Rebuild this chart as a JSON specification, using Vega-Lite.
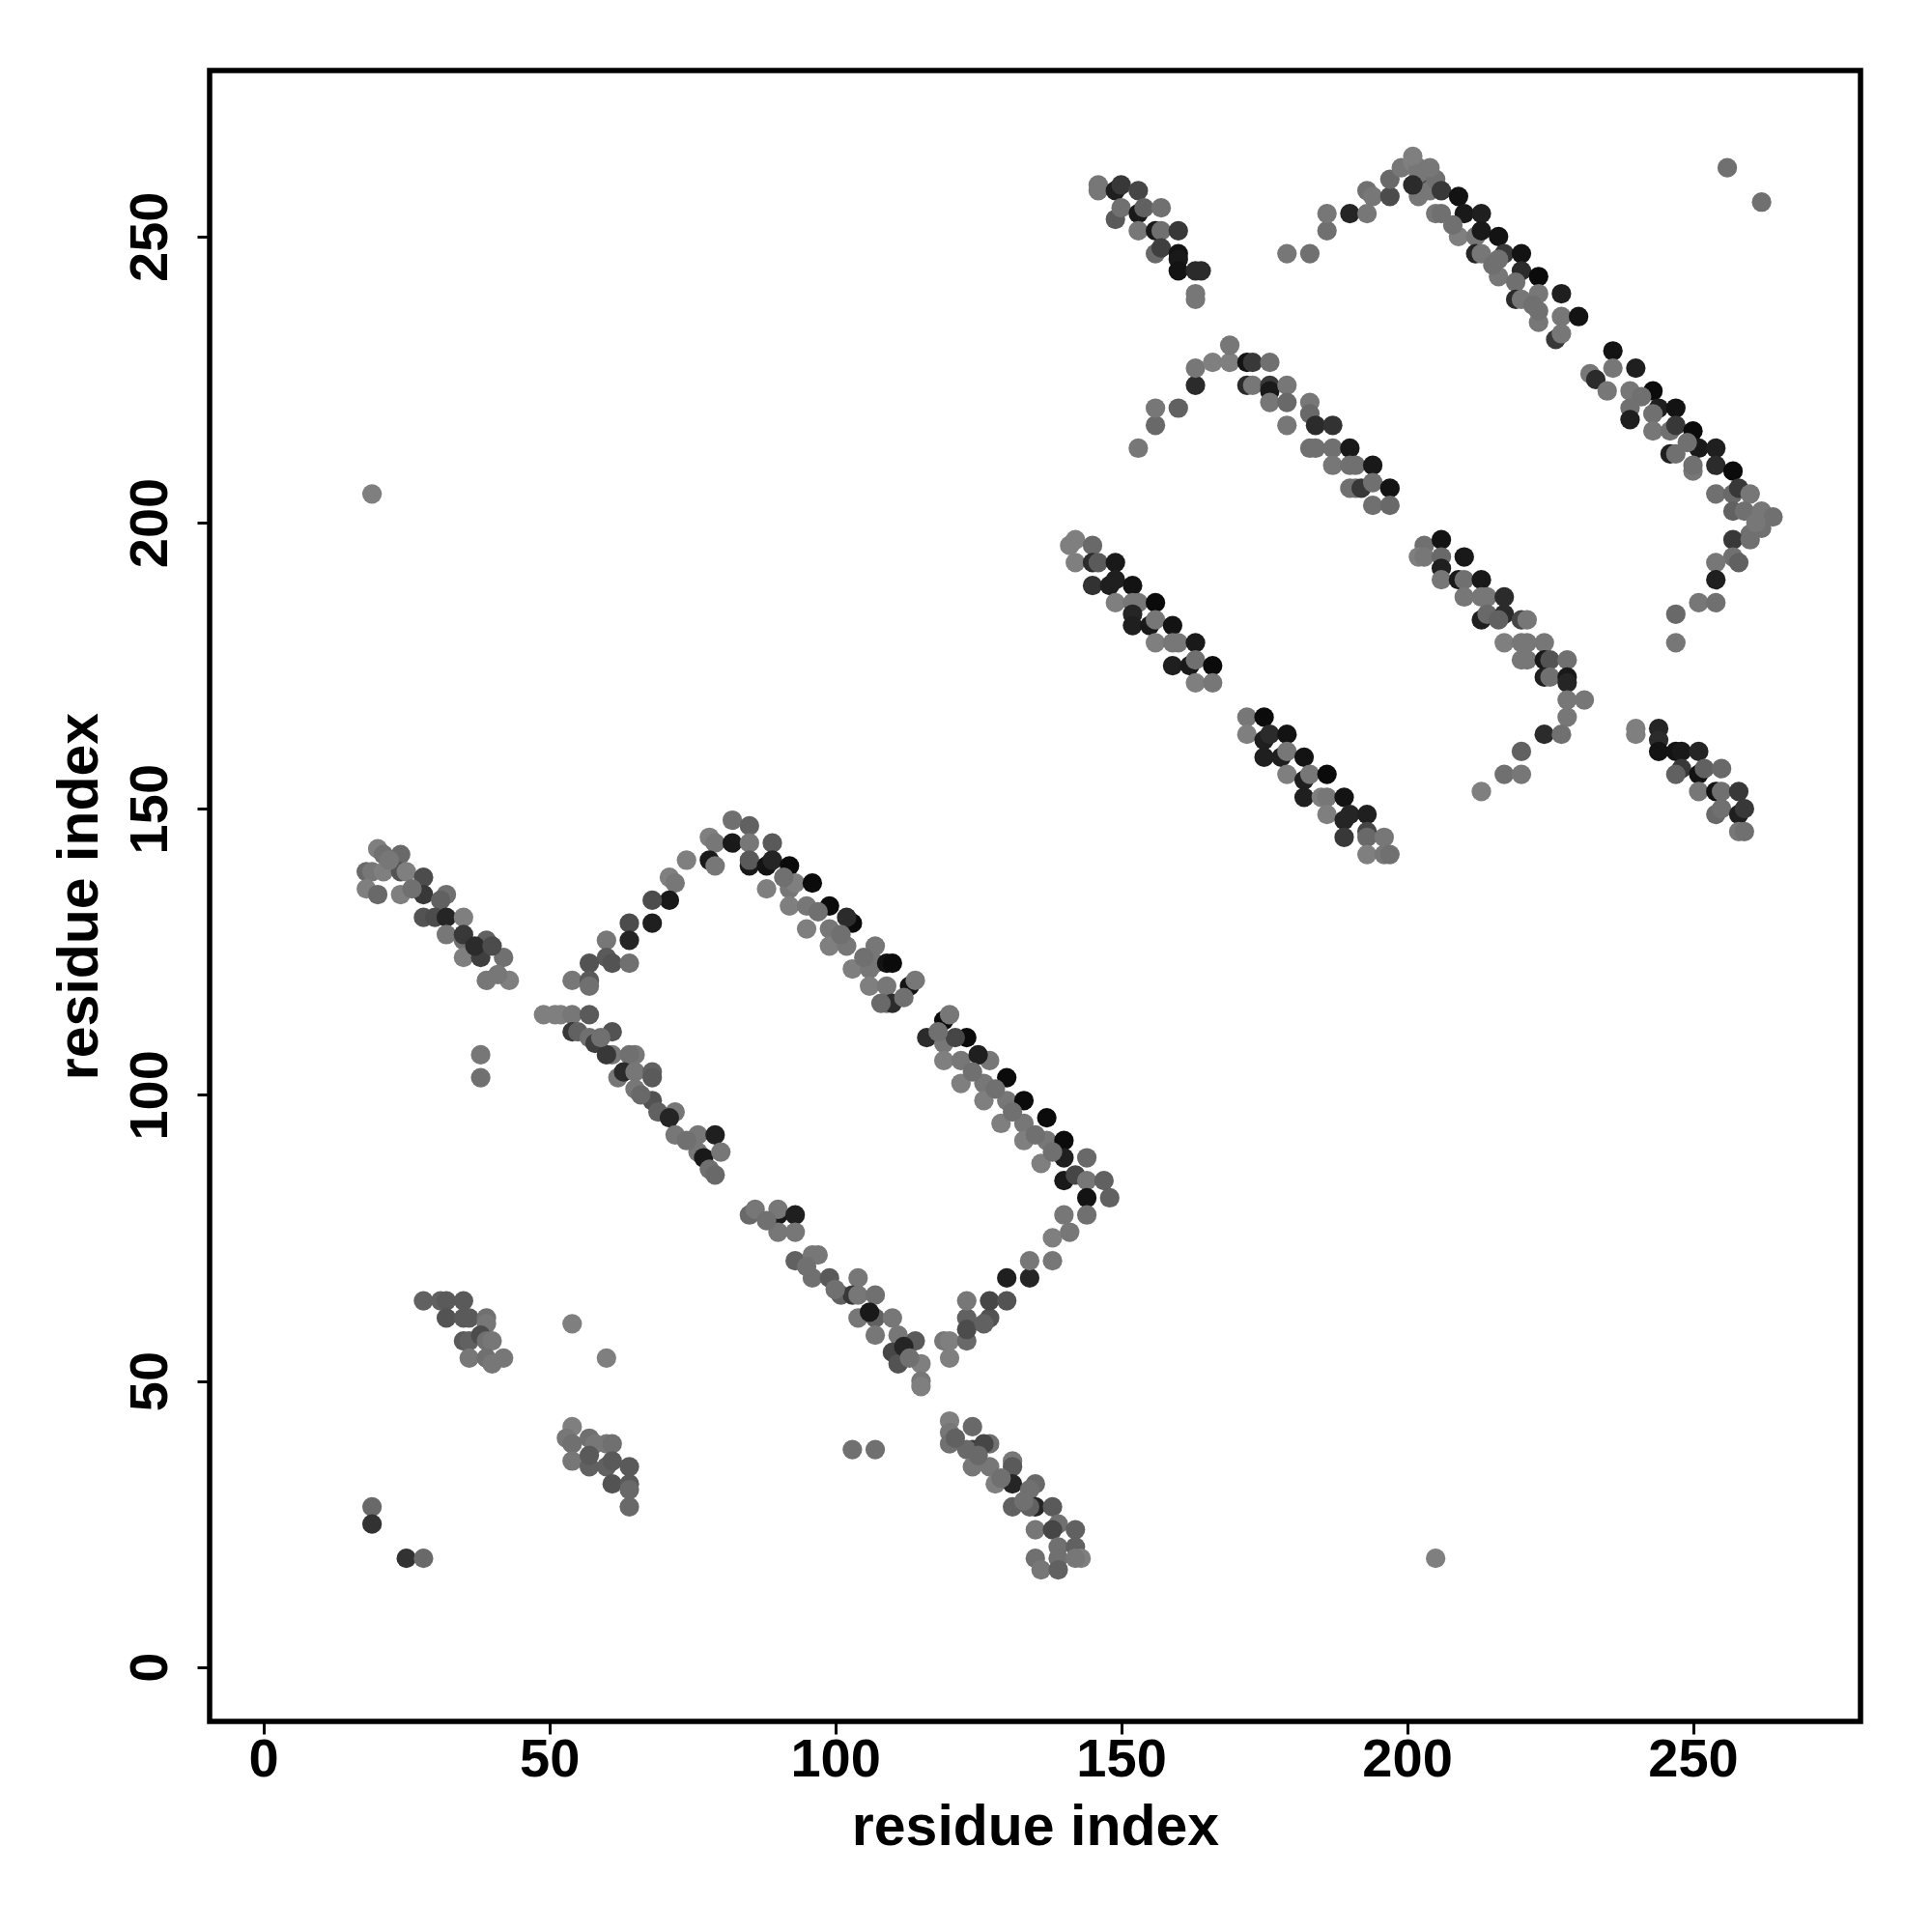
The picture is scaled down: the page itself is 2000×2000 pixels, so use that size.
{
  "$schema": "https://vega.github.io/schema/vega-lite/v6.json",
  "width": 1709,
  "height": 1709,
  "autosize": {"type": "none"},
  "padding": {"left": 217, "top": 73, "right": 74, "bottom": 218},
  "background": "white",
  "config": {"view": {"stroke": "black", "strokeWidth": 5.5}, "font": "Liberation Sans"},
  "data": {"values": [
    {"i":19,"j":205,"p":0.1},{"i":256,"j":262,"p":0.2},{"i":262,"j":256,"p":0.2},{"i":205,"j":19,"p":0.1},{"i":38,"j":107,"p":0.15},{"i":38,"j":103,"p":0.2},{"i":103,"j":38,"p":0.2},{"i":107,"j":38,"p":0.2},{"i":54,"j":60,"p":0.1},{"i":60,"j":54,"p":0.1},{"i":19,"j":28,"p":0.25},{"i":19,"j":25,"p":0.65},{"i":25,"j":19,"p":0.65},{"i":28,"j":19,"p":0.25},
    {"i":20,"j":143,"p":0.1},{"i":21,"j":142,"p":0.2},{"i":24,"j":142,"p":0.25},{"i":18,"j":139,"p":0.25},{"i":19,"j":139,"p":0.15},{"i":21,"j":139,"p":0.1},{"i":24,"j":139,"p":0.4},{"i":25,"j":139,"p":0.1},{"i":28,"j":138,"p":0.45},{"i":18,"j":136,"p":0.1},{"i":20,"j":135,"p":0.25},{"i":24,"j":135,"p":0.1},{"i":28,"j":135,"p":0.6},{"i":32,"j":135,"p":0.2},{"i":31,"j":134,"p":0.3},{"i":28,"j":131,"p":0.4},{"i":30,"j":131,"p":0.45},{"i":32,"j":131,"p":0.75},{"i":35,"j":131,"p":0.1},{"i":32,"j":128,"p":0.15},{"i":35,"j":127,"p":0.2},{"i":39,"j":127,"p":0.3},{"i":35,"j":128,"p":0.6},{"i":35,"j":124,"p":0.1},{"i":38,"j":124,"p":0.55},{"i":42,"j":124,"p":0.2},{"i":39,"j":120,"p":0.15},{"i":43,"j":120,"p":0.1},{"i":37,"j":126,"p":0.7},{"i":40,"j":126,"p":0.45},{"i":22,"j":141,"p":0.15},{"i":26,"j":136,"p":0.2},{"i":41,"j":121,"p":0.15},
    {"i":28,"j":64,"p":0.3},{"i":31,"j":64,"p":0.3},{"i":32,"j":64,"p":0.35},{"i":35,"j":64,"p":0.35},{"i":32,"j":61,"p":0.4},{"i":35,"j":61,"p":0.35},{"i":36,"j":61,"p":0.35},{"i":39,"j":61,"p":0.2},{"i":39,"j":60,"p":0.15},{"i":35,"j":57,"p":0.35},{"i":36,"j":57,"p":0.3},{"i":38,"j":58,"p":0.45},{"i":39,"j":57,"p":0.2},{"i":40,"j":57,"p":0.15},{"i":36,"j":54,"p":0.15},{"i":39,"j":54,"p":0.2},{"i":40,"j":53,"p":0.15},{"i":42,"j":54,"p":0.15},
    {"i":54,"j":42,"p":0.1},{"i":53,"j":40,"p":0.15},{"i":54,"j":39,"p":0.2},{"i":57,"j":40,"p":0.2},{"i":58,"j":39,"p":0.15},{"i":60,"j":39,"p":0.15},{"i":61,"j":39,"p":0.2},{"i":54,"j":36,"p":0.15},{"i":57,"j":35,"p":0.3},{"i":60,"j":35,"p":0.3},{"i":61,"j":36,"p":0.35},{"i":64,"j":35,"p":0.35},{"i":61,"j":32,"p":0.4},{"i":64,"j":32,"p":0.35},{"i":64,"j":31,"p":0.25},{"i":64,"j":28,"p":0.25},{"i":57,"j":37,"p":0.35},
    {"i":74,"j":141,"p":0.1},{"i":71,"j":138,"p":0.1},{"i":72,"j":137,"p":0.15},{"i":71,"j":134,"p":0.85},{"i":68,"j":134,"p":0.45},{"i":68,"j":130,"p":0.8},{"i":64,"j":130,"p":0.45},{"i":64,"j":127,"p":0.75},{"i":60,"j":127,"p":0.15},{"i":60,"j":124,"p":0.35},{"i":61,"j":123,"p":0.4},{"i":64,"j":123,"p":0.2},{"i":57,"j":123,"p":0.4},{"i":54,"j":120,"p":0.15},{"i":57,"j":120,"p":0.35},{"i":57,"j":119,"p":0.2},
    {"i":82,"j":148,"p":0.2},{"i":85,"j":147,"p":0.3},{"i":78,"j":145,"p":0.1},{"i":79,"j":144,"p":0.15},{"i":82,"j":144,"p":0.85},{"i":85,"j":144,"p":0.15},{"i":89,"j":144,"p":0.35},{"i":78,"j":141,"p":0.85},{"i":79,"j":140,"p":0.15},{"i":85,"j":140,"p":0.85},{"i":85,"j":141,"p":0.35},{"i":88,"j":140,"p":0.9},{"i":89,"j":141,"p":0.75},{"i":92,"j":140,"p":0.95},{"i":88,"j":136,"p":0.1},{"i":92,"j":136,"p":0.15},{"i":93,"j":137,"p":0.1},{"i":96,"j":137,"p":0.95},{"i":92,"j":133,"p":0.1},{"i":95,"j":133,"p":0.15},{"i":99,"j":133,"p":0.95},{"i":95,"j":129,"p":0.1},{"i":99,"j":129,"p":0.15},{"i":103,"j":130,"p":0.95},{"i":102,"j":131,"p":0.7},{"i":99,"j":126,"p":0.1},{"i":102,"j":126,"p":0.15},{"i":107,"j":126,"p":0.15},{"i":103,"j":122,"p":0.1},{"i":106,"j":122,"p":0.15},{"i":107,"j":123,"p":0.15},{"i":109,"j":123,"p":0.9},{"i":110,"j":123,"p":0.95},{"i":106,"j":119,"p":0.1},{"i":109,"j":119,"p":0.15},{"i":113,"j":119,"p":0.9},{"i":114,"j":120,"p":0.15},{"i":109,"j":116,"p":0.2},{"i":110,"j":116,"p":0.7},{"i":108,"j":116,"p":0.25},{"i":119,"j":113,"p":0.95},{"i":120,"j":114,"p":0.15},{"i":116,"j":110,"p":0.7},{"i":119,"j":109,"p":0.15},{"i":123,"j":110,"p":0.95},{"i":121,"j":110,"p":0.5},{"i":119,"j":106,"p":0.1},{"i":122,"j":106,"p":0.15},{"i":127,"j":106,"p":0.15},{"i":125,"j":107,"p":0.8},{"i":122,"j":102,"p":0.1},{"i":126,"j":102,"p":0.15},{"i":130,"j":103,"p":0.95},{"i":126,"j":99,"p":0.1},{"i":130,"j":99,"p":0.15},{"i":133,"j":99,"p":0.95},{"i":129,"j":95,"p":0.1},{"i":133,"j":95,"p":0.15},{"i":137,"j":96,"p":0.95},{"i":133,"j":92,"p":0.1},{"i":137,"j":92,"p":0.15},{"i":140,"j":92,"p":0.95},{"i":136,"j":88,"p":0.1},{"i":140,"j":89,"p":0.8},{"i":144,"j":89,"p":0.25},{"i":140,"j":85,"p":0.85},{"i":142,"j":86,"p":0.5},{"i":144,"j":85,"p":0.15},{"i":147,"j":85,"p":0.3},{"i":144,"j":82,"p":0.9},{"i":148,"j":82,"p":0.3},{"i":140,"j":79,"p":0.15},{"i":144,"j":79,"p":0.2},{"i":91,"j":138,"p":0.2},{"i":97,"j":132,"p":0.2},{"i":101,"j":128,"p":0.2},{"i":105,"j":124,"p":0.2},{"i":112,"j":117,"p":0.2},{"i":118,"j":111,"p":0.2},{"i":124,"j":104,"p":0.2},{"i":128,"j":101,"p":0.2},{"i":131,"j":97,"p":0.2},{"i":135,"j":93,"p":0.2},{"i":138,"j":90,"p":0.2},
    {"i":49,"j":114,"p":0.1},{"i":51,"j":114,"p":0.1},{"i":52,"j":114,"p":0.1},{"i":54,"j":114,"p":0.15},{"i":57,"j":114,"p":0.35},{"i":54,"j":111,"p":0.6},{"i":55,"j":111,"p":0.3},{"i":57,"j":110,"p":0.2},{"i":58,"j":109,"p":0.55},{"i":61,"j":111,"p":0.4},{"i":61,"j":107,"p":0.15},{"i":60,"j":107,"p":0.6},{"i":65,"j":107,"p":0.15},{"i":64,"j":107,"p":0.2},{"i":62,"j":103,"p":0.15},{"i":63,"j":104,"p":0.7},{"i":65,"j":104,"p":0.15},{"i":68,"j":104,"p":0.3},{"i":68,"j":103,"p":0.35},{"i":65,"j":101,"p":0.15},{"i":68,"j":99,"p":0.4},{"i":69,"j":97,"p":0.3},{"i":72,"j":97,"p":0.15},{"i":71,"j":96,"p":0.75},{"i":72,"j":93,"p":0.15},{"i":76,"j":93,"p":0.15},{"i":79,"j":93,"p":0.8},{"i":76,"j":90,"p":0.15},{"i":77,"j":89,"p":0.85},{"i":80,"j":90,"p":0.15},{"i":78,"j":87,"p":0.2},{"i":79,"j":86,"p":0.25},{"i":85,"j":79,"p":0.25},{"i":86,"j":80,"p":0.15},{"i":90,"j":79,"p":0.85},{"i":90,"j":80,"p":0.15},{"i":93,"j":79,"p":0.8},{"i":90,"j":76,"p":0.15},{"i":93,"j":76,"p":0.15},{"i":93,"j":71,"p":0.3},{"i":96,"j":72,"p":0.15},{"i":97,"j":72,"p":0.15},{"i":96,"j":68,"p":0.2},{"i":99,"j":68,"p":0.35},{"i":101,"j":65,"p":0.3},{"i":104,"j":68,"p":0.15},{"i":103,"j":65,"p":0.6},{"i":104,"j":65,"p":0.15},{"i":107,"j":65,"p":0.2},{"i":104,"j":61,"p":0.15},{"i":107,"j":61,"p":0.3},{"i":110,"j":61,"p":0.15},{"i":107,"j":58,"p":0.15},{"i":111,"j":58,"p":0.15},{"i":114,"j":57,"p":0.35},{"i":110,"j":55,"p":0.5},{"i":111,"j":53,"p":0.4},{"i":115,"j":53,"p":0.1},{"i":115,"j":50,"p":0.15},{"i":115,"j":49,"p":0.1},{"i":112,"j":56,"p":0.75},{"i":106,"j":62,"p":0.85},{"i":59,"j":110,"p":0.2},{"i":66,"j":100,"p":0.25},{"i":74,"j":92,"p":0.2},{"i":88,"j":78,"p":0.2},{"i":95,"j":70,"p":0.2},{"i":100,"j":66,"p":0.2},{"i":113,"j":54,"p":0.2},
    {"i":119,"j":57,"p":0.15},{"i":120,"j":57,"p":0.1},{"i":120,"j":54,"p":0.1},{"i":123,"j":57,"p":0.25},{"i":123,"j":61,"p":0.3},{"i":123,"j":64,"p":0.15},{"i":127,"j":61,"p":0.4},{"i":127,"j":64,"p":0.5},{"i":130,"j":64,"p":0.4},{"i":130,"j":68,"p":0.8},{"i":134,"j":68,"p":0.75},{"i":134,"j":71,"p":0.15},{"i":138,"j":71,"p":0.15},{"i":138,"j":75,"p":0.1},{"i":141,"j":76,"p":0.15},{"i":123,"j":59,"p":0.45},{"i":126,"j":60,"p":0.3},
    {"i":120,"j":43,"p":0.1},{"i":120,"j":41,"p":0.15},{"i":120,"j":39,"p":0.2},{"i":124,"j":42,"p":0.25},{"i":124,"j":38,"p":0.6},{"i":123,"j":38,"p":0.25},{"i":124,"j":35,"p":0.15},{"i":127,"j":39,"p":0.2},{"i":126,"j":39,"p":0.5},{"i":127,"j":35,"p":0.15},{"i":128,"j":32,"p":0.1},{"i":131,"j":36,"p":0.15},{"i":131,"j":35,"p":0.35},{"i":131,"j":32,"p":0.75},{"i":131,"j":28,"p":0.3},{"i":135,"j":32,"p":0.25},{"i":134,"j":31,"p":0.2},{"i":135,"j":28,"p":0.75},{"i":134,"j":28,"p":0.3},{"i":138,"j":28,"p":0.35},{"i":135,"j":24,"p":0.15},{"i":139,"j":25,"p":0.2},{"i":138,"j":24,"p":0.5},{"i":142,"j":24,"p":0.3},{"i":139,"j":21,"p":0.2},{"i":142,"j":21,"p":0.3},{"i":143,"j":19,"p":0.1},{"i":135,"j":19,"p":0.2},{"i":136,"j":17,"p":0.15},{"i":139,"j":19,"p":0.2},{"i":139,"j":17,"p":0.3},{"i":142,"j":19,"p":0.15},{"i":121,"j":40,"p":0.3},{"i":125,"j":37,"p":0.25},{"i":129,"j":33,"p":0.2},{"i":133,"j":29,"p":0.2},
    {"i":141,"j":196,"p":0.1},{"i":142,"j":197,"p":0.1},{"i":145,"j":196,"p":0.25},{"i":142,"j":193,"p":0.1},{"i":145,"j":193,"p":0.7},{"i":146,"j":193,"p":0.35},{"i":149,"j":193,"p":0.85},{"i":145,"j":189,"p":0.65},{"i":148,"j":189,"p":0.8},{"i":149,"j":190,"p":0.8},{"i":152,"j":189,"p":0.9},{"i":149,"j":186,"p":0.1},{"i":152,"j":186,"p":0.15},{"i":153,"j":186,"p":0.15},{"i":152,"j":184,"p":0.75},{"i":156,"j":186,"p":0.95},{"i":152,"j":182,"p":0.8},{"i":155,"j":182,"p":0.85},{"i":156,"j":183,"p":0.15},{"i":159,"j":182,"p":0.9},{"i":156,"j":179,"p":0.1},{"i":159,"j":179,"p":0.15},{"i":160,"j":179,"p":0.15},{"i":163,"j":179,"p":0.85},{"i":159,"j":175,"p":0.8},{"i":162,"j":175,"p":0.85},{"i":163,"j":176,"p":0.2},{"i":166,"j":175,"p":0.95},{"i":163,"j":172,"p":0.1},{"i":166,"j":172,"p":0.15},
    {"i":172,"j":166,"p":0.15},{"i":175,"j":166,"p":0.95},{"i":172,"j":163,"p":0.1},{"i":175,"j":162,"p":0.8},{"i":176,"j":163,"p":0.7},{"i":179,"j":163,"p":0.9},{"i":175,"j":159,"p":0.8},{"i":178,"j":159,"p":0.8},{"i":179,"j":160,"p":0.15},{"i":182,"j":159,"p":0.9},{"i":179,"j":156,"p":0.1},{"i":182,"j":155,"p":0.8},{"i":183,"j":156,"p":0.15},{"i":186,"j":156,"p":0.95},{"i":182,"j":152,"p":0.8},{"i":185,"j":152,"p":0.1},{"i":186,"j":152,"p":0.15},{"i":189,"j":152,"p":0.9},{"i":186,"j":149,"p":0.1},{"i":189,"j":148,"p":0.75},{"i":190,"j":149,"p":0.75},{"i":193,"j":149,"p":0.8},{"i":189,"j":145,"p":0.6},{"i":193,"j":146,"p":0.5},{"i":193,"j":145,"p":0.25},{"i":196,"j":145,"p":0.15},{"i":193,"j":142,"p":0.1},{"i":196,"j":142,"p":0.15},{"i":197,"j":142,"p":0.2},
    {"i":203,"j":196,"p":0.2},{"i":206,"j":197,"p":0.9},{"i":202,"j":194,"p":0.1},{"i":203,"j":194,"p":0.15},{"i":206,"j":194,"p":0.25},{"i":206,"j":192,"p":0.8},{"i":210,"j":194,"p":0.85},{"i":206,"j":190,"p":0.15},{"i":209,"j":190,"p":0.85},{"i":210,"j":190,"p":0.2},{"i":213,"j":190,"p":0.85},{"i":210,"j":187,"p":0.15},{"i":213,"j":187,"p":0.15},{"i":214,"j":187,"p":0.15},{"i":217,"j":187,"p":0.7},{"i":213,"j":183,"p":0.8},{"i":214,"j":184,"p":0.25},{"i":217,"j":184,"p":0.7},{"i":216,"j":183,"p":0.3},{"i":220,"j":183,"p":0.5},{"i":221,"j":183,"p":0.15},{"i":217,"j":179,"p":0.1},{"i":220,"j":179,"p":0.15},{"i":221,"j":179,"p":0.15},{"i":224,"j":179,"p":0.15},{"i":220,"j":176,"p":0.15},{"i":221,"j":176,"p":0.15},{"i":224,"j":176,"p":0.85},{"i":225,"j":176,"p":0.4},{"i":228,"j":176,"p":0.2},{"i":224,"j":173,"p":0.8},{"i":225,"j":173,"p":0.2},{"i":228,"j":173,"p":0.85},{"i":228,"j":172,"p":0.75},{"i":228,"j":169,"p":0.15},{"i":231,"j":169,"p":0.15},{"i":228,"j":166,"p":0.15},{"i":224,"j":163,"p":0.7},{"i":227,"j":163,"p":0.2},{"i":220,"j":160,"p":0.3},{"i":217,"j":156,"p":0.2},{"i":220,"j":156,"p":0.15},{"i":213,"j":153,"p":0.1},
    {"i":240,"j":164,"p":0.1},{"i":240,"j":163,"p":0.1},{"i":244,"j":164,"p":0.75},{"i":244,"j":162,"p":0.7},{"i":244,"j":160,"p":0.9},{"i":247,"j":160,"p":0.9},{"i":248,"j":160,"p":0.85},{"i":251,"j":160,"p":0.75},{"i":248,"j":157,"p":0.6},{"i":247,"j":156,"p":0.3},{"i":251,"j":156,"p":0.9},{"i":252,"j":157,"p":0.3},{"i":255,"j":157,"p":0.25},{"i":251,"j":153,"p":0.15},{"i":254,"j":153,"p":0.9},{"i":255,"j":153,"p":0.2},{"i":258,"j":153,"p":0.6},{"i":254,"j":149,"p":0.25},{"i":255,"j":150,"p":0.2},{"i":258,"j":149,"p":0.8},{"i":259,"j":150,"p":0.6},{"i":258,"j":146,"p":0.15},{"i":259,"j":146,"p":0.2},
    {"i":146,"j":259,"p":0.15},{"i":146,"j":258,"p":0.15},{"i":149,"j":258,"p":0.8},{"i":150,"j":259,"p":0.6},{"i":153,"j":258,"p":0.5},{"i":149,"j":253,"p":0.35},{"i":150,"j":255,"p":0.2},{"i":153,"j":254,"p":0.85},{"i":154,"j":255,"p":0.3},{"i":157,"j":255,"p":0.2},{"i":153,"j":251,"p":0.15},{"i":156,"j":251,"p":0.85},{"i":157,"j":251,"p":0.2},{"i":160,"j":251,"p":0.6},{"i":156,"j":247,"p":0.25},{"i":157,"j":248,"p":0.55},{"i":160,"j":247,"p":0.9},{"i":160,"j":246,"p":0.85},{"i":160,"j":244,"p":0.9},{"i":163,"j":244,"p":0.7},{"i":164,"j":244,"p":0.7},{"i":163,"j":240,"p":0.15},{"i":163,"j":239,"p":0.15},
    {"i":153,"j":213,"p":0.15},{"i":156,"j":217,"p":0.25},{"i":156,"j":220,"p":0.15},{"i":160,"j":220,"p":0.3},{"i":163,"j":224,"p":0.7},{"i":163,"j":227,"p":0.15},{"i":166,"j":228,"p":0.1},{"i":169,"j":228,"p":0.1},{"i":169,"j":231,"p":0.15},{"i":172,"j":228,"p":0.9},{"i":173,"j":228,"p":0.6},{"i":176,"j":228,"p":0.2},{"i":172,"j":224,"p":0.7},{"i":173,"j":224,"p":0.15},{"i":176,"j":224,"p":0.6},{"i":176,"j":223,"p":0.85},{"i":179,"j":224,"p":0.15},{"i":176,"j":221,"p":0.15},{"i":179,"j":221,"p":0.25},{"i":179,"j":217,"p":0.15},{"i":183,"j":221,"p":0.15},{"i":183,"j":219,"p":0.25},{"i":184,"j":217,"p":0.7},{"i":187,"j":217,"p":0.65},{"i":183,"j":213,"p":0.2},{"i":184,"j":213,"p":0.2},{"i":187,"j":213,"p":0.2},{"i":190,"j":213,"p":0.85},{"i":187,"j":210,"p":0.15},{"i":190,"j":210,"p":0.2},{"i":191,"j":210,"p":0.2},{"i":194,"j":210,"p":0.85},{"i":190,"j":206,"p":0.2},{"i":191,"j":206,"p":0.2},{"i":192,"j":206,"p":0.6},{"i":194,"j":207,"p":0.2},{"i":197,"j":206,"p":0.9},{"i":194,"j":203,"p":0.2},{"i":197,"j":203,"p":0.25},
    {"i":179,"j":247,"p":0.15},{"i":183,"j":247,"p":0.2},{"i":186,"j":251,"p":0.2},{"i":186,"j":254,"p":0.15},{"i":190,"j":254,"p":0.75},{"i":193,"j":254,"p":0.15},{"i":193,"j":258,"p":0.2},{"i":194,"j":257,"p":0.15},{"i":197,"j":257,"p":0.45},{"i":197,"j":260,"p":0.25},{"i":199,"j":262,"p":0.15},{"i":201,"j":263,"p":0.1},{"i":202,"j":262,"p":0.15},{"i":202,"j":259,"p":0.5},{"i":202,"j":257,"p":0.15},{"i":204,"j":258,"p":0.15},{"i":205,"j":254,"p":0.15},
    {"i":201,"j":264,"p":0.1},{"i":202,"j":261,"p":0.15},{"i":201,"j":259,"p":0.7},{"i":205,"j":260,"p":0.2},{"i":206,"j":258,"p":0.6},{"i":206,"j":254,"p":0.2},{"i":209,"j":257,"p":0.9},{"i":210,"j":254,"p":0.85},{"i":213,"j":254,"p":0.8},{"i":209,"j":250,"p":0.1},{"i":212,"j":250,"p":0.15},{"i":213,"j":251,"p":0.85},{"i":216,"j":250,"p":0.9},{"i":212,"j":247,"p":0.75},{"i":213,"j":247,"p":0.15},{"i":217,"j":247,"p":0.6},{"i":216,"j":246,"p":0.2},{"i":220,"j":247,"p":0.9},{"i":216,"j":243,"p":0.15},{"i":220,"j":244,"p":0.7},{"i":219,"j":242,"p":0.2},{"i":223,"j":243,"p":0.95},{"i":219,"j":239,"p":0.7},{"i":220,"j":239,"p":0.15},{"i":223,"j":240,"p":0.15},{"i":227,"j":240,"p":0.8},{"i":223,"j":235,"p":0.15},{"i":223,"j":237,"p":0.2},{"i":227,"j":236,"p":0.15},{"i":230,"j":236,"p":0.9},{"i":226,"j":232,"p":0.6},{"i":227,"j":233,"p":0.15},{"i":204,"j":262,"p":0.15},{"i":208,"j":252,"p":0.2},{"i":215,"j":245,"p":0.2},{"i":222,"j":238,"p":0.2},
    {"i":236,"j":230,"p":0.9},{"i":232,"j":226,"p":0.15},{"i":233,"j":225,"p":0.7},{"i":236,"j":227,"p":0.15},{"i":240,"j":227,"p":0.8},{"i":235,"j":223,"p":0.15},{"i":239,"j":223,"p":0.15},{"i":243,"j":223,"p":0.95},{"i":239,"j":220,"p":0.2},{"i":239,"j":218,"p":0.8},{"i":244,"j":220,"p":0.8},{"i":243,"j":219,"p":0.2},{"i":247,"j":220,"p":0.9},{"i":243,"j":216,"p":0.15},{"i":246,"j":216,"p":0.2},{"i":247,"j":217,"p":0.6},{"i":250,"j":216,"p":0.95},{"i":246,"j":212,"p":0.8},{"i":247,"j":212,"p":0.2},{"i":251,"j":213,"p":0.85},{"i":254,"j":213,"p":0.8},{"i":250,"j":209,"p":0.15},{"i":250,"j":210,"p":0.2},{"i":254,"j":210,"p":0.7},{"i":257,"j":209,"p":0.95},{"i":254,"j":205,"p":0.2},{"i":257,"j":205,"p":0.25},{"i":258,"j":206,"p":0.6},{"i":260,"j":205,"p":0.15},{"i":257,"j":202,"p":0.3},{"i":259,"j":202,"p":0.2},{"i":262,"j":202,"p":0.15},{"i":264,"j":201,"p":0.2},{"i":260,"j":198,"p":0.2},{"i":262,"j":199,"p":0.2},{"i":257,"j":197,"p":0.6},{"i":260,"j":197,"p":0.2},{"i":257,"j":194,"p":0.2},{"i":258,"j":193,"p":0.3},{"i":254,"j":193,"p":0.15},{"i":254,"j":190,"p":0.8},{"i":251,"j":186,"p":0.15},{"i":254,"j":186,"p":0.2},{"i":247,"j":184,"p":0.25},{"i":247,"j":179,"p":0.15},{"i":241,"j":222,"p":0.2},{"i":249,"j":214,"p":0.2},{"i":261,"j":200,"p":0.15}
  ]},
  "mark": {"type": "circle", "opacity": 1, "size": 410},
  "encoding": {
    "x": {
      "field": "i", "type": "quantitative",
      "scale": {"domain": [-9.4, 279.3], "nice": false, "zero": false},
      "axis": {
        "values": [0, 50, 100, 150, 200, 250], "title": "residue index", "grid": false, "domain": false,
        "tickColor": "black", "tickSize": 13, "tickWidth": 3,
        "labelFont": "Liberation Sans", "labelFontWeight": "bold", "labelFontSize": 56, "labelColor": "black",
        "labelBaseline": "alphabetic", "labelPadding": 43, "labelFlush": false, "labelOverlap": false,
        "titleFont": "Liberation Sans", "titleFontWeight": "bold", "titleFontSize": 59, "titleColor": "black",
        "titleBaseline": "alphabetic", "titleX": 854.5, "titleY": 127, "titleAlign": "center"
      }
    },
    "y": {
      "field": "j", "type": "quantitative",
      "scale": {"domain": [-9.5, 279.0], "nice": false, "zero": false},
      "axis": {
        "values": [0, 50, 100, 150, 200, 250], "title": "residue index", "grid": false, "domain": false,
        "tickColor": "black", "tickSize": 13, "tickWidth": 3,
        "labelFont": "Liberation Sans", "labelFontWeight": "bold", "labelFontSize": 56, "labelColor": "black",
        "labelAngle": -90, "labelAlign": "center", "labelBaseline": "alphabetic", "labelPadding": 32, "labelFlush": false, "labelOverlap": false,
        "titleFont": "Liberation Sans", "titleFontWeight": "bold", "titleFontSize": 59, "titleColor": "black",
        "titleAngle": -90, "titleBaseline": "alphabetic", "titleAlign": "center", "titleX": -117, "titleY": 854.5
      }
    },
    "color": {"field": "p", "type": "quantitative", "scale": {"domain": [0, 1], "range": ["#8e8e8e", "#000000"]}, "legend": null}
  }
}
